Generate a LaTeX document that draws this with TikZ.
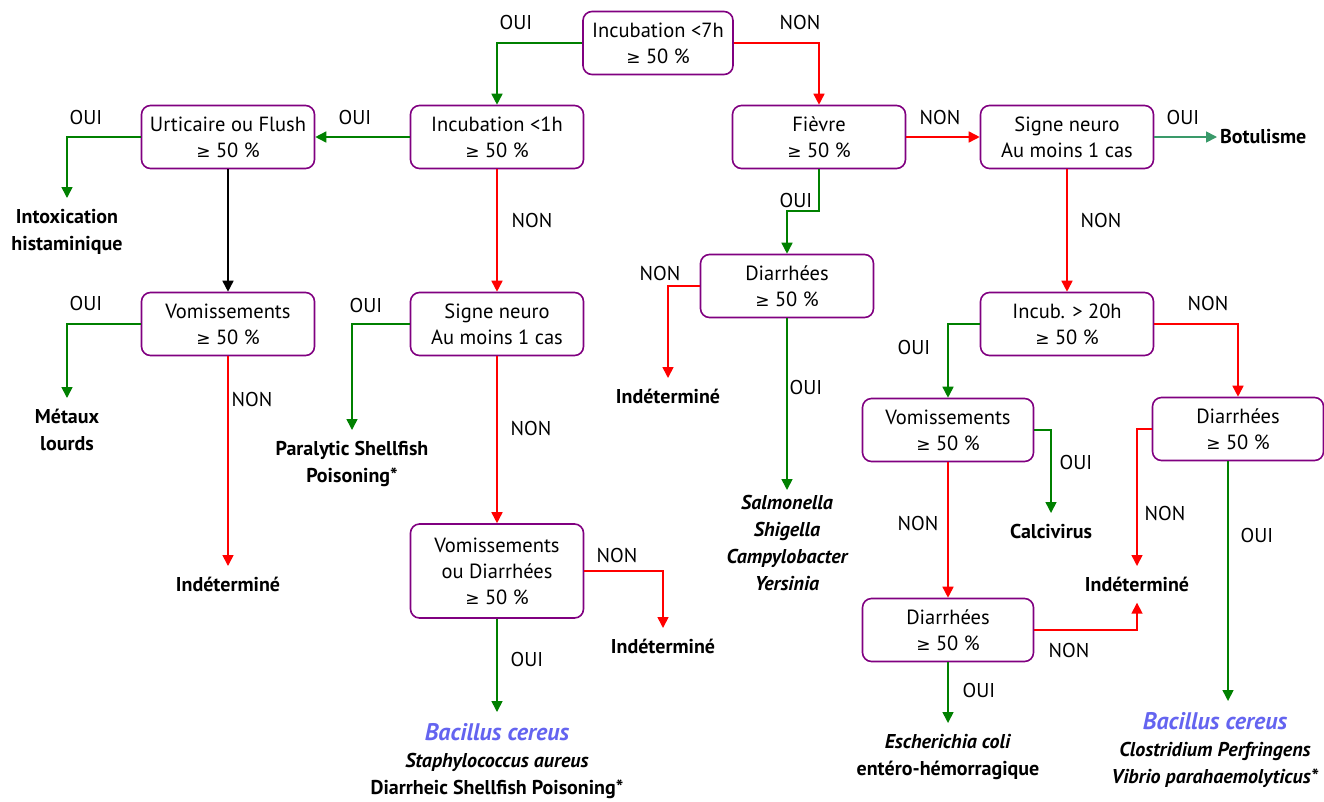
\documentclass[tikz,border=0pt]{standalone}
\usepackage{fontspec}
\setmainfont{PT Sans}
\newfontfamily\symfnt{DejaVu Sans}
\usetikzlibrary{arrows.meta}
\definecolor{boxpurple}{HTML}{800080}
\definecolor{ygreen}{HTML}{008000}
\definecolor{nred}{HTML}{FF0000}
\definecolor{sgreen}{HTML}{3A9A6A}
\definecolor{bblue}{HTML}{6464F0}
\newcommand{\gte}{{\symfnt\fontsize{17}{20}\selectfont ≥}}
\newcommand{\bc}{{\color{bblue}\fontsize{24}{28}\selectfont\itshape Bacillus cereus}}
\begin{document}
\begin{tikzpicture}[x=1pt,y=-1pt,
  box/.style={draw=boxpurple, line width=1.6pt, rounded corners=9pt, minimum width=173pt, minimum height=63pt, align=center, font=\fontsize{20.5}{26}\selectfont, inner sep=0pt},
  term/.style={inner sep=0pt, outer sep=11pt, align=center, font=\fontsize{20}{27}\selectfont\bfseries},
  lbl/.style={font=\fontsize{20}{24}\selectfont, inner sep=0pt},
  conn/.style={line width=1.6pt, -{Triangle[width=11pt,length=11pt]}},
  yes/.style={conn, color=ygreen},
  no/.style={conn, color=nred},
  blk/.style={conn, color=black},
  botc/.style={conn, color=sgreen}
]
\useasboundingbox (0,0) rectangle (1324,801);

% decision boxes
\node[box, minimum width=150pt] (b1) at (658,43) {Incubation <7h\\\gte{} 50 \%};
\node[box] (b2) at (497,137) {Incubation <1h\\\gte{} 50 \%};
\node[box] (b3) at (228,137) {Urticaire ou Flush\\\gte{} 50 \%};
\node[box] (b4) at (819,137) {Fièvre\\\gte{} 50 \%};
\node[box] (b5) at (1067,137) {Signe neuro\\Au moins 1 cas};
\node[box] (b6) at (228,324) {Vomissements\\\gte{} 50 \%};
\node[box] (b7) at (497,324) {Signe neuro\\Au moins 1 cas};
\node[box] (b8) at (787,286) {Diarrhées\\\gte{} 50 \%};
\node[box] (b9) at (1067,324) {Incub. > 20h\\\gte{} 50 \%};
\node[box, minimum width=171pt] (b10) at (948,430) {Vomissements\\\gte{} 50 \%};
\node[box, minimum width=171pt] (b11) at (1238,429) {Diarrhées\\\gte{} 50 \%};
\node[box, minimum height=94pt] (b12) at (497,571) {Vomissements\\ou Diarrhées\\\gte{} 50 \%};
\node[box, minimum width=171pt] (b13) at (948,630) {Diarrhées\\\gte{} 50 \%};

% terminal texts
\node[term, anchor=north] (t1) at (67,198) {Intoxication\\histaminique};
\node[term, anchor=north] (t2) at (67,398) {Métaux\\lourds};
\node[term, anchor=north] (t3) at (352,430) {Paralytic Shellfish\\Poisoning*};
\node[term, anchor=north] (t4) at (228,566) {Indéterminé};
\node[term, anchor=north] (t5) at (663,628) {Indéterminé};
\node[term, anchor=north] (t6) at (497,712) {\bc\\\textit{Staphylococcus aureus}\\Diarrheic Shellfish Poisoning*};
\node[term, anchor=north] (t7) at (668,378) {Indéterminé};
\node[term, anchor=north, outer sep=5pt] (t8) at (787,490) {\itshape Salmonella\\\itshape Shigella\\\itshape Campylobacter\\\itshape Yersinia};
\node[term, anchor=north] (t9) at (1051,513) {Calcivirus};
\node[term, anchor=north] (t10) at (1137,566) {Indéterminé};
\node[term, anchor=north] (t11) at (948,723) {\textit{Escherichia coli}\\entéro-hémorragique};
\node[term, anchor=north] (t12) at (1215,701) {\bc\\\textit{Clostridium Perfringens}\\\textit{Vibrio parahaemolyticus*}};
\node[term, anchor=west, outer sep=3pt] (tb) at (1217,137) {Botulisme};
\coordinate (k2) at (1228,701);

% connectors
\coordinate (k1) at (819,211);
\draw[yes] (b1.west) -| (b2.north);
\draw[no] (b1.east) -| (b4.north);
\draw[yes] (b2.west) -- (b3.east);
\draw[yes] (b3.west) -| (t1.north);
\draw[blk] (b3.south) -- (b6.north);
\draw[no] (b2.south) -- (b7.north);
\draw[yes] (b6.west) -| (t2.north);
\draw[no] (b6.south) -- (t4.north);
\draw[yes] (b7.west) -| (t3.north);
\draw[no] (b7.south) -- (b12.north);
\draw[no] (b12.east) -| (t5.north);
\draw[yes] (b12.south) -- (t6.north);
\draw[no] (b4.east) -- (b5.west);
\draw[botc] (b5.east) -- (tb.west);
\draw[yes] (b4.south) -- (k1) -| (b8.north);
\draw[no] (b8.west) -| (t7.north);
\draw[yes] (b8.south) -- (t8.north);
\draw[no] (b5.south) -- (b9.north);
\draw[yes] (b9.west) -| (b10.north);
\draw[no] (b9.east) -| (b11.north);
\draw[yes] (b10.east) -| (t9.north);
\draw[no] (b10.south) -- (b13.north);
\draw[no] (b11.west) -| (t10.north);
\draw[no] (b13.east) -| (t10.south);
\draw[yes] (b13.south) -- (t11.north);
\draw[yes] (k2 |- b11.south) -- (k2);

% labels
\node[lbl] (l1) at (516,22) {OUI};
\node[lbl] (l2) at (800,22) {NON};
\node[lbl] (l3) at (355,117) {OUI};
\node[lbl] (l4) at (86,117) {OUI};
\node[lbl] (l5) at (532,220) {NON};
\node[lbl] (l6) at (86,303) {OUI};
\node[lbl] (l7) at (252,399) {NON};
\node[lbl] (l8) at (366,305) {OUI};
\node[lbl] (l9) at (531,428) {NON};
\node[lbl] (l10) at (617,555) {NON};
\node[lbl] (l11) at (527,659) {OUI};
\node[lbl] (l12) at (940,117) {NON};
\node[lbl] (l13) at (1183,117) {OUI};
\node[lbl] (l14) at (796,200) {OUI};
\node[lbl] (l15) at (660,273) {NON};
\node[lbl] (l16) at (806,387) {OUI};
\node[lbl] (l17) at (1101,220) {NON};
\node[lbl] (l18) at (914,347) {OUI};
\node[lbl] (l19) at (1208,303) {NON};
\node[lbl] (l20) at (1076,462) {OUI};
\node[lbl] (l21) at (918,523) {NON};
\node[lbl] (l22) at (1165,513) {NON};
\node[lbl] (l23) at (1069,650) {NON};
\node[lbl] (l24) at (979,690) {OUI};
\node[lbl] (l25) at (1257,535) {OUI};
\end{tikzpicture}
\end{document}
